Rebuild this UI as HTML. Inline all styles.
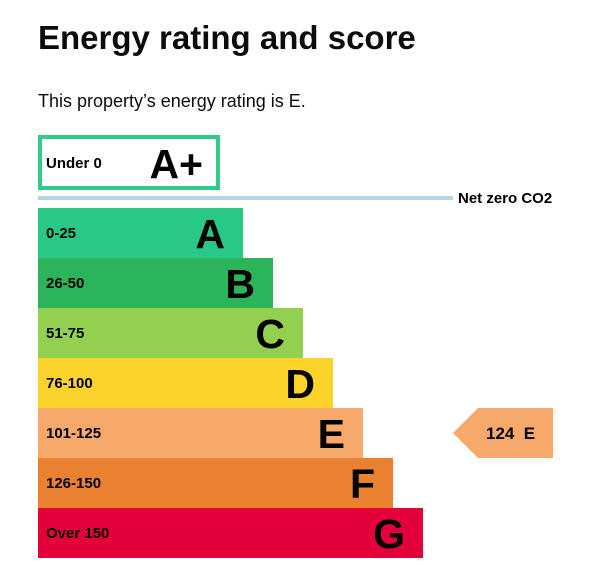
<!DOCTYPE html>
<html><head><meta charset="utf-8"><style>
body{margin:0;width:603px;height:580px;background:#fff;font-family:"Liberation Sans",Arial,sans-serif;position:relative;overflow:hidden}
h1{position:absolute;left:38px;top:19px;margin:0;font-size:33px;font-weight:bold;color:#0b0c0c}
p{position:absolute;left:38px;top:91px;margin:0;font-size:18px;color:#0b0c0c}
</style></head><body>
<h1>Energy rating and score</h1>
<p>This property’s energy rating is E.</p>
<svg id="c" width="603" height="580" style="position:absolute;left:0;top:0">
<rect x="40" y="137" width="178" height="51" fill="#fff" stroke="#2ecc87" stroke-width="4"/>
<text x="46" y="168" font-size="15" font-weight="bold" font-family="Liberation Sans">Under 0</text>
<text x="203" y="178" text-anchor="end" font-size="41" font-weight="bold" font-family="Liberation Sans">A+</text>
<rect x="38" y="196" width="415" height="4" fill="#b1d8e2"/>
<text x="458" y="203" font-size="15" font-weight="bold" font-family="Liberation Sans">Net zero CO2</text>
</svg>
<script>
const bands=["A","B","C","D","E","F","G"];
const ranges=["0-25","26-50","51-75","76-100","101-125","126-150","Over 150"];
const colors=["#28c986","#2bb45a","#93d04f","#fcd32a","#f7a96c","#e98131","#e4003b"];
const score=[124];
const currentBand=["E"];
const svg=document.getElementById('c');const NS="http://www.w3.org/2000/svg";
const y0=208,bh=50,x0=38,w0=205,dw=30;
function mk(t,a){const e=document.createElementNS(NS,t);for(const k in a)e.setAttribute(k,a[k]);svg.appendChild(e);return e;}
bands.forEach((b,i)=>{
 const y=y0+i*bh,w=w0+i*dw;
 const r=mk('rect',{x:x0,y:y,width:w,height:bh,fill:colors[i]});
 
 
 const t=mk('text',{x:46,y:y+30,'font-size':15,'font-weight':'bold','font-family':'Liberation Sans'});t.textContent=ranges[i];
 
 
 const l=mk('text',{x:x0+w-18,y:y+40,'text-anchor':'end','font-size':41,'font-weight':'bold','font-family':'Liberation Sans'});l.textContent=b;
 
 
});
const bi=bands.indexOf(currentBand[0]);const ay=y0+bi*bh;
const ar=mk('polygon',{points:`453,${ay+25} 478,${ay} 553,${ay} 553,${ay+bh} 478,${ay+bh}`,fill:colors[bi]});


const at=mk('text',{x:486,y:ay+31,'font-size':17,'font-weight':'bold','font-family':'Liberation Sans'});at.textContent=score[0]+'  '+currentBand[0];
at.style.whiteSpace='pre';


</script>
</body></html>
